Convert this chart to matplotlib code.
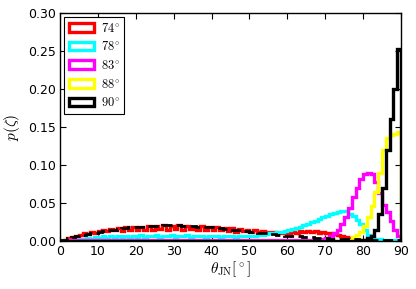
import numpy as np
import matplotlib
matplotlib.use("Agg")
import matplotlib.pyplot as plt

plt.rcParams['mathtext.fontset'] = 'cm'
plt.rcParams['font.family'] = ['DejaVu Sans']

edges = list(range(0, 91))  # 1-degree bins, theta_JN in degrees
centers = [e + 0.5 for e in edges[:-1]]

labels = ["$74^{\\circ}$", "$78^{\\circ}$", "$83^{\\circ}$", "$88^{\\circ}$", "$90^{\\circ}$"]
colors = ["red", "cyan", "magenta", "yellow", "black"]

red = [0.000, 0.002, 0.004, 0.005, 0.007, 0.008, 0.010, 0.009, 0.012, 0.011,
       0.013, 0.015, 0.013, 0.016, 0.014, 0.017, 0.013, 0.018, 0.015, 0.019,
       0.014, 0.019, 0.015, 0.020, 0.014, 0.020, 0.016, 0.021, 0.015, 0.020,
       0.016, 0.021, 0.015, 0.020, 0.016, 0.019, 0.015, 0.020, 0.014, 0.019,
       0.015, 0.018, 0.014, 0.017, 0.013, 0.017, 0.012, 0.016, 0.013, 0.015,
       0.012, 0.014, 0.012, 0.013, 0.011, 0.012, 0.012, 0.011, 0.010, 0.011,
       0.011, 0.012, 0.011, 0.013, 0.012, 0.013, 0.012, 0.013, 0.011, 0.012,
       0.010, 0.010, 0.009, 0.008, 0.007, 0.005, 0.004, 0.003, 0.002, 0.001,
       0.001, 0.001, 0.000, 0.000, 0.000, 0.000, 0.000, 0.000, 0.000, 0.000]

cyan = [0.000, 0.001, 0.001, 0.002, 0.002, 0.003, 0.003, 0.004, 0.003, 0.005,
        0.004, 0.006, 0.004, 0.006, 0.005, 0.007, 0.004, 0.007, 0.005, 0.007,
        0.005, 0.008, 0.005, 0.007, 0.006, 0.008, 0.005, 0.007, 0.006, 0.008,
        0.005, 0.007, 0.006, 0.008, 0.005, 0.007, 0.006, 0.007, 0.005, 0.007,
        0.006, 0.007, 0.005, 0.007, 0.006, 0.006, 0.005, 0.007, 0.006, 0.006,
        0.007, 0.007, 0.008, 0.008, 0.009, 0.010, 0.011, 0.012, 0.012, 0.013,
        0.014, 0.016, 0.017, 0.019, 0.021, 0.023, 0.025, 0.027, 0.029, 0.031,
        0.033, 0.035, 0.037, 0.038, 0.040, 0.039, 0.036, 0.033, 0.028, 0.022,
        0.015, 0.008, 0.005, 0.003, 0.003, 0.002, 0.002, 0.002, 0.001, 0.001]

magenta = [0.000, 0.000, 0.001, 0.001, 0.001, 0.001, 0.001, 0.001, 0.001, 0.001,
           0.001, 0.001, 0.001, 0.001, 0.001, 0.001, 0.001, 0.001, 0.001, 0.001,
           0.001, 0.001, 0.001, 0.001, 0.001, 0.001, 0.001, 0.001, 0.001, 0.001,
           0.001, 0.001, 0.001, 0.001, 0.001, 0.001, 0.001, 0.001, 0.001, 0.001,
           0.001, 0.001, 0.001, 0.001, 0.001, 0.001, 0.001, 0.001, 0.001, 0.001,
           0.001, 0.001, 0.001, 0.001, 0.001, 0.001, 0.001, 0.001, 0.001, 0.001,
           0.001, 0.001, 0.001, 0.001, 0.001, 0.001, 0.001, 0.002, 0.002, 0.003,
           0.004, 0.006, 0.010, 0.015, 0.022, 0.032, 0.043, 0.058, 0.070, 0.082,
           0.088, 0.089, 0.088, 0.078, 0.063, 0.048, 0.038, 0.026, 0.015, 0.006]

yellow = [0.000, 0.000, 0.000, 0.000, 0.000, 0.000, 0.000, 0.000, 0.000, 0.000,
          0.000, 0.000, 0.000, 0.000, 0.000, 0.000, 0.000, 0.000, 0.000, 0.000,
          0.000, 0.000, 0.000, 0.000, 0.000, 0.000, 0.000, 0.000, 0.000, 0.000,
          0.000, 0.000, 0.000, 0.000, 0.000, 0.000, 0.000, 0.000, 0.000, 0.000,
          0.000, 0.000, 0.000, 0.000, 0.000, 0.000, 0.000, 0.000, 0.000, 0.000,
          0.000, 0.000, 0.000, 0.000, 0.000, 0.000, 0.000, 0.000, 0.000, 0.000,
          0.000, 0.000, 0.000, 0.000, 0.000, 0.000, 0.000, 0.000, 0.000, 0.000,
          0.000, 0.000, 0.000, 0.000, 0.000, 0.001, 0.002, 0.005, 0.008, 0.012,
          0.020, 0.032, 0.046, 0.065, 0.090, 0.120, 0.135, 0.140, 0.141, 0.143]

black = [0.000, 0.000, 0.000, 0.000, 0.000, 0.000, 0.000, 0.000, 0.000, 0.000,
         0.000, 0.000, 0.000, 0.000, 0.000, 0.000, 0.000, 0.000, 0.000, 0.000,
         0.000, 0.000, 0.000, 0.000, 0.000, 0.000, 0.000, 0.000, 0.000, 0.000,
         0.000, 0.000, 0.000, 0.000, 0.000, 0.000, 0.000, 0.000, 0.000, 0.000,
         0.000, 0.000, 0.000, 0.000, 0.000, 0.000, 0.000, 0.000, 0.000, 0.000,
         0.000, 0.000, 0.000, 0.000, 0.000, 0.000, 0.000, 0.000, 0.000, 0.000,
         0.000, 0.000, 0.000, 0.000, 0.000, 0.000, 0.000, 0.000, 0.000, 0.000,
         0.000, 0.000, 0.000, 0.000, 0.000, 0.000, 0.000, 0.000, 0.000, 0.001,
         0.002, 0.004, 0.007, 0.014, 0.035, 0.070, 0.120, 0.160, 0.200, 0.252]

dashed = [0.001, 0.002, 0.004, 0.005, 0.006, 0.007, 0.008, 0.009, 0.010, 0.011,
          0.012, 0.013, 0.014, 0.015, 0.015, 0.016, 0.017, 0.017, 0.018, 0.018,
          0.019, 0.019, 0.019, 0.020, 0.020, 0.020, 0.020, 0.021, 0.021, 0.021,
          0.021, 0.021, 0.020, 0.020, 0.020, 0.020, 0.019, 0.019, 0.019, 0.018,
          0.018, 0.017, 0.017, 0.016, 0.016, 0.015, 0.015, 0.014, 0.013, 0.013,
          0.012, 0.012, 0.011, 0.010, 0.010, 0.009, 0.009, 0.008, 0.008, 0.007,
          0.007, 0.006, 0.006, 0.006, 0.005, 0.005, 0.005, 0.004, 0.004, 0.004,
          0.004, 0.003, 0.003, 0.003, 0.003, 0.003, 0.003, 0.003, 0.003, 0.002,
          0.002, 0.002, 0.002, 0.002, 0.002, 0.002, 0.002, 0.002, 0.002, 0.002]

series = [red, cyan, magenta, yellow, black]

fig = plt.figure(figsize=(4.16, 2.89), dpi=100)
ax = fig.add_axes([0.144, 0.166, 0.820, 0.789])

for vals, col, lab in zip(series, colors, labels):
    ax.hist(centers, bins=edges, weights=vals, histtype='step', color=col,
            linewidth=2.4, label=lab)
ax.hist(centers, bins=edges, weights=dashed, histtype='step', color='black',
        linewidth=2.0, linestyle='--')

ax.set_xlim(0, 90)
ax.set_ylim(0, 0.30)
ax.set_xticks(range(0, 91, 10))
ax.set_yticks([0.0, 0.05, 0.10, 0.15, 0.20, 0.25, 0.30])
ax.set_yticklabels(["0.00", "0.05", "0.10", "0.15", "0.20", "0.25", "0.30"])
ax.tick_params(direction='in', top=True, right=True, length=4, width=0.8, labelsize=9, pad=3)
for s in ax.spines.values():
    s.set_linewidth(1.0)

ax.set_xlabel("$\\theta_{\\rm JN} [^\\circ]$", fontsize=11, labelpad=1)
ax.set_ylabel("$p(\\zeta)$", fontsize=11, labelpad=4)

leg = ax.legend(loc='upper left', fontsize=9, fancybox=False, edgecolor='black',
                framealpha=1, handlelength=2.0, handleheight=0.7, borderpad=0.35,
                labelspacing=0.45, handletextpad=0.6, borderaxespad=0.35)
leg.get_frame().set_linewidth(0.8)

fig.savefig("out.png", dpi=100, facecolor='white')
